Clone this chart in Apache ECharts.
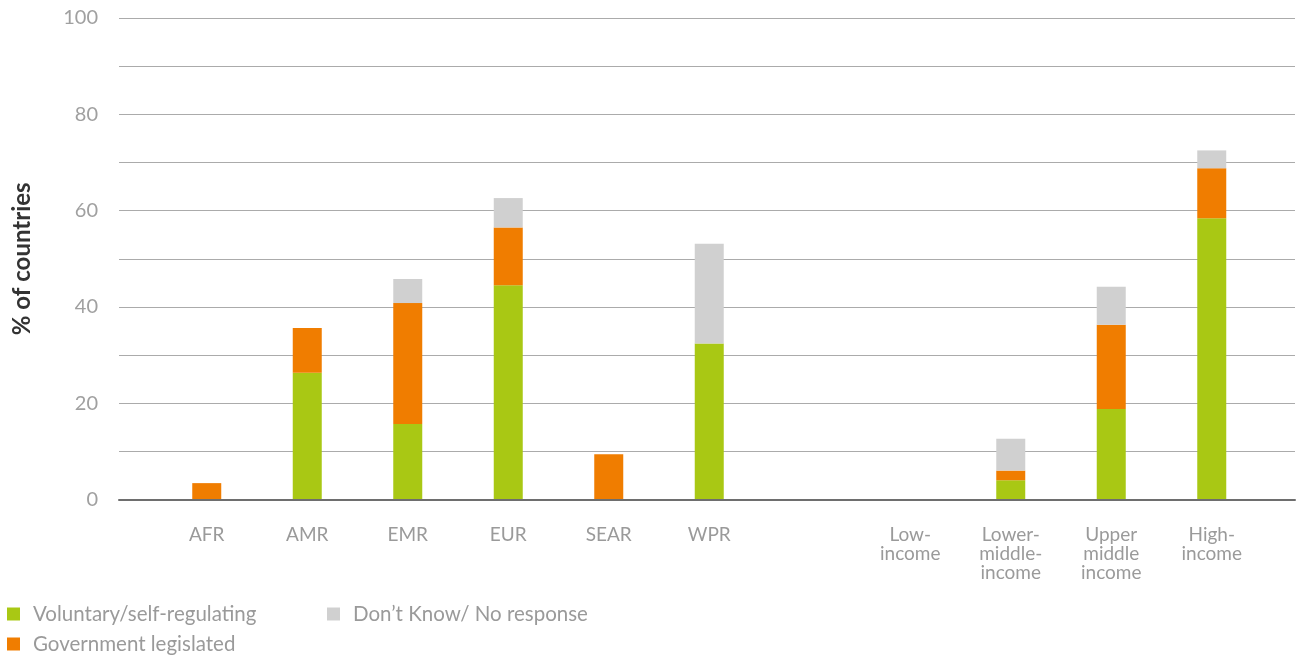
<!DOCTYPE html>
<html>
<head>
<meta charset="utf-8">
<script src="https://cdn.jsdelivr.net/npm/echarts@6/dist/echarts.min.js"></script>
<style>
html,body{margin:0;padding:0;background:#fff;}
#c{width:1296px;height:658px;}
</style>
</head>
<body>
<div id="c"></div>
<script>
const categories = ['AFR','AMR','EMR','EUR','SEAR','WPR','','Low-\nincome','Lower-\nmiddle-\nincome','Upper\nmiddle\nincome','High-\nincome'];
const voluntary  = [0, 26.3, 15.7, 44.5, 0, 32.4, null, 0, 4.0, 18.8, 58.4];
const government = [3.4, 9.3, 25.1, 12.0, 9.4, 0, null, 0, 2.0, 17.5, 10.4];
const dontKnow   = [0, 0, 5.0, 6.1, 0, 20.7, null, 0, 6.6, 7.9, 3.7];
const yTicks = [0, 20, 40, 60, 80, 100];
const seriesNames = ['Voluntary/self-regulating', 'Government legislated', 'Don\u2019t Know/ No response'];
const colors = ['#A9C814', '#F07D00', '#D0D0D0'];

const FONT = 'Lato';
const chart = echarts.init(document.getElementById('c'), null, {renderer:'canvas'});
const gTop = 18, gBottom = 158.5;
const legendText = {color: '#9a9a9a', fontSize: 20.5, fontFamily: FONT, padding: [0,0,0,8], lineHeight: 24};
const option = {
  animation: false,
  backgroundColor: '#ffffff',
  grid: [
    {left: 119, right: 1, top: gTop, bottom: gBottom},
    {left: 156.5, right: 34, top: gTop, bottom: gBottom}
  ],
  legend: [
    {
      left: 2, top: 597, orient: 'vertical', icon: 'rect', height: 60,
      itemWidth: 13, itemHeight: 13, itemGap: 6,
      data: [seriesNames[0], seriesNames[1]],
      textStyle: legendText,
      selectedMode: false
    },
    {
      left: 322, top: 597, orient: 'vertical', icon: 'rect',
      itemWidth: 13, itemHeight: 13,
      data: [seriesNames[2]],
      textStyle: legendText,
      selectedMode: false
    }
  ],
  xAxis: [
    {
      gridIndex: 0, type: 'value', min: 0, max: 1, z: 5,
      axisLine: {show: true, onZero: false, lineStyle: {color: '#6e6e6e', width: 2}},
      axisTick: {show: false}, axisLabel: {show: false}, splitLine: {show: false}
    },
    {
      gridIndex: 1, type: 'category', data: categories,
      axisLine: {show: false}, axisTick: {show: false},
      axisLabel: {interval: 0, color: '#9a9a9a', fontSize: 19, fontFamily: FONT, lineHeight: 19, margin: 26}
    }
  ],
  yAxis: [
    {
      gridIndex: 0, type: 'value', min: 0, max: 100, interval: 10,
      name: '% of countries', nameLocation: 'middle', nameGap: 85,
      nameTextStyle: {color: '#333333', fontSize: 24, fontWeight: 'bold', fontFamily: FONT},
      axisLine: {show: false}, axisTick: {show: false},
      axisLabel: {
        color: '#a0a0a0', fontSize: 20, fontFamily: FONT, margin: 21,
        formatter: v => yTicks.includes(v) ? String(v) : ''
      },
      splitLine: {show: true, lineStyle: {color: '#ababab', width: 1}}
    },
    {
      gridIndex: 1, type: 'value', min: 0, max: 100, show: false,
      splitLine: {show: false}
    }
  ],
  series: [
    {name: seriesNames[0], type: 'bar', stack: 'a', xAxisIndex: 1, yAxisIndex: 1, barWidth: 29, data: voluntary, itemStyle: {color: colors[0]}},
    {name: seriesNames[1], type: 'bar', stack: 'a', xAxisIndex: 1, yAxisIndex: 1, barWidth: 29, data: government, itemStyle: {color: colors[1]}},
    {name: seriesNames[2], type: 'bar', stack: 'a', xAxisIndex: 1, yAxisIndex: 1, barWidth: 29, data: dontKnow, itemStyle: {color: colors[2]}}
  ]
};
chart.setOption(option);
</script>
</body>
</html>
